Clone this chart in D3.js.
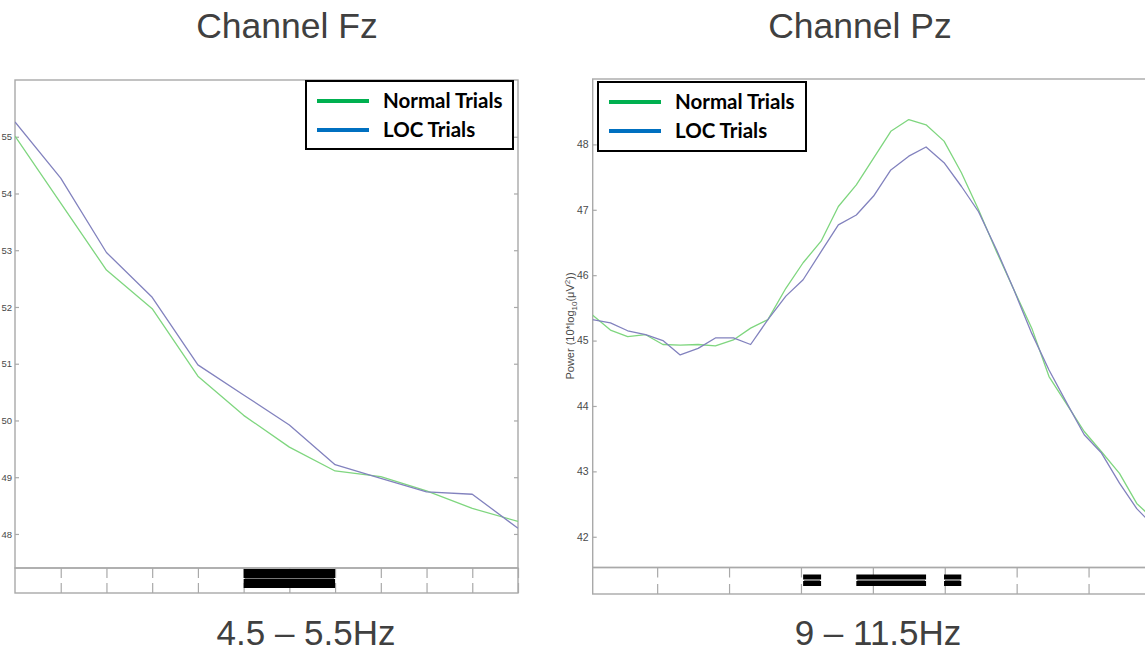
<!DOCTYPE html>
<html>
<head>
<meta charset="utf-8">
<script src="https://cdn.jsdelivr.net/npm/d3@7"></script>
<style>
  html, body { margin: 0; padding: 0; background: #fff; }
  svg { display: block; }
</style>
</head>
<body>
<svg id="chart" width="1145" height="653"></svg>
<script>
// Frequency bins (Hz) and mean spectral power (dB) per condition
const freqFz   = [2.0, 2.5, 3.0, 3.5, 4.0, 4.5, 5.0, 5.5, 6.0, 6.5, 7.0, 7.5];
const normalFz = [55.01, 53.83, 52.65, 51.97, 50.78, 50.09, 49.53, 49.11, 49.01, 48.76, 48.45, 48.22];
const locFz    = [55.26, 54.27, 52.96, 52.17, 50.98, 50.45, 49.92, 49.22, 48.98, 48.74, 48.70, 48.10];

const freqPz   = [6.10, 6.35, 6.59, 6.84, 7.08, 7.32, 7.57, 7.81, 8.06, 8.30, 8.54, 8.79, 9.03, 9.28, 9.52, 9.77,
                  10.01, 10.25, 10.50, 10.74, 10.99, 11.23, 11.47, 11.72, 11.96, 12.21, 12.45, 12.70, 12.94, 13.18,
                  13.43, 13.67, 13.92];
const normalPz = [45.39, 45.16, 45.06, 45.09, 44.94, 44.93, 44.94, 44.92, 45.01, 45.19, 45.32, 45.80, 46.19, 46.52,
                  47.05, 47.38, 47.79, 48.20, 48.38, 48.30, 48.05, 47.57, 47.00, 46.36, 45.78, 45.19, 44.45, 44.02,
                  43.61, 43.30, 42.97, 42.51, 42.25];
const locPz    = [45.32, 45.27, 45.15, 45.09, 45.00, 44.78, 44.88, 45.04, 45.04, 44.94, 45.32, 45.68, 45.93, 46.36,
                  46.77, 46.92, 47.21, 47.61, 47.82, 47.96, 47.72, 47.36, 46.97, 46.39, 45.78, 45.11, 44.55, 44.04,
                  43.56, 43.28, 42.82, 42.43, 42.15];

// Axis ticks
const yTicksFz = [48, 49, 50, 51, 52, 53, 54, 55];
const yTicksPz = [42, 43, 44, 45, 46, 47, 48];
const xTicksFz = [2.5, 3.0, 3.5, 4.0, 4.5, 5.0, 5.5, 6.0, 6.5, 7.0, 7.5];
const xTicksPz = [7, 8, 9, 10, 11, 12, 13];

// Significant frequency ranges (start, end in Hz)
const sigFz = [[4.5, 5.5]];
const sigPz = [[9.03, 9.28], [9.77, 10.74], [10.99, 11.23]];

// Text
const titles = ["Channel Fz", "Channel Pz"];
const bandLabels = ["4.5 \u2013 5.5Hz", "9 \u2013 11.5Hz"];
const seriesNames = ["Normal Trials", "LOC Trials"];

const C = {
  frame: "#a9a9a9",
  tickText: "#4a4a4a",
  normal: "#7fd67f",
  loc: "#8282be",
  legNormal: "#00b050",
  legLoc: "#0070c0",
  text: "#404040"
};

const svg = d3.select("#chart");
svg.append("rect").attr("width", 1145).attr("height", 653).attr("fill", "#fff");

function panel(cfg) {
  const g = svg.append("g");
  const x = d3.scaleLinear().domain(cfg.xDomain).range([cfg.left, cfg.right]);
  const y = d3.scaleLinear().domain(cfg.yDomain).range([cfg.bottom, cfg.top]);

  // plot frame
  g.append("rect")
    .attr("x", cfg.left).attr("y", cfg.top)
    .attr("width", cfg.right - cfg.left).attr("height", cfg.bottom - cfg.top)
    .attr("fill", "none").attr("stroke", C.frame).attr("stroke-width", 1.4);

  // y axis on the left, ticks pointing inward
  const ya = g.append("g").attr("transform", `translate(${cfg.left},0)`)
    .call(d3.axisLeft(y).tickValues(cfg.yTicks).tickSize(-4).tickPadding(cfg.labelPad));
  ya.select(".domain").remove();
  ya.selectAll(".tick line").attr("stroke", C.frame).attr("stroke-width", 1.2);
  ya.selectAll(".tick text")
    .attr("fill", C.tickText)
    .attr("font-family", "'Liberation Sans Narrow', 'Liberation Sans', sans-serif")
    .attr("font-size", cfg.tickFont);

  // mirrored ticks on the right edge
  if (cfg.rightTicks) {
    const yr = g.append("g").attr("transform", `translate(${cfg.right},0)`)
      .call(d3.axisRight(y).tickValues(cfg.yTicks).tickSize(-4).tickFormat(""));
    yr.select(".domain").remove();
    yr.selectAll(".tick line").attr("stroke", C.frame).attr("stroke-width", 1.2);
  }

  // spectra
  const line = d3.line().x(d => x(d[0])).y(d => y(d[1]));
  const clipId = "clip" + cfg.id;
  svg.append("clipPath").attr("id", clipId).append("rect")
    .attr("x", cfg.left).attr("y", cfg.top)
    .attr("width", cfg.right - cfg.left).attr("height", cfg.bottom - cfg.top);
  const lines = g.append("g").attr("clip-path", `url(#${clipId})`);
  lines.append("path")
    .attr("d", line(cfg.freq.map((f, i) => [f, cfg.normal[i]])))
    .attr("fill", "none").attr("stroke", C.normal).attr("stroke-width", 1.3)
    .attr("stroke-linejoin", "round");
  lines.append("path")
    .attr("d", line(cfg.freq.map((f, i) => [f, cfg.loc[i]])))
    .attr("fill", "none").attr("stroke", C.loc).attr("stroke-width", 1.3)
    .attr("stroke-linejoin", "round");

  // significance strip below the plot
  g.append("rect")
    .attr("x", cfg.left).attr("y", cfg.bottom)
    .attr("width", cfg.right - cfg.left).attr("height", cfg.stripBottom - cfg.bottom)
    .attr("fill", "none").attr("stroke", C.frame).attr("stroke-width", 1.4);
  const tlen = cfg.stripTick;
  const xt = g.append("g").attr("transform", `translate(0,${cfg.bottom})`)
    .call(d3.axisBottom(x).tickValues(cfg.xTicks).tickSize(tlen).tickFormat(""));
  const xb = g.append("g").attr("transform", `translate(0,${cfg.stripBottom})`)
    .call(d3.axisTop(x).tickValues(cfg.xTicks).tickSize(tlen).tickFormat(""));
  [xt, xb].forEach(a => {
    a.select(".domain").remove();
    a.selectAll(".tick line").attr("stroke", C.frame).attr("stroke-width", 1.2);
  });

  // significance bars: two stacked rows
  const bars = g.append("g");
  cfg.sig.forEach(([a, b]) => {
    const x0 = x(a), w = x(b) - x(a);
    bars.append("rect").attr("x", x0).attr("y", cfg.barTop)
      .attr("width", w).attr("height", cfg.barH).attr("fill", "#000");
    bars.append("rect").attr("x", x0).attr("y", cfg.barTop + cfg.barH + cfg.barGap)
      .attr("width", w).attr("height", cfg.barH).attr("fill", "#000");
    bars.append("line")
      .attr("x1", x0 + 1).attr("x2", x0 + w - 1)
      .attr("y1", cfg.barTop + cfg.barH + cfg.barGap / 2)
      .attr("y2", cfg.barTop + cfg.barH + cfg.barGap / 2)
      .attr("stroke", "#777").attr("stroke-width", cfg.barGap);
  });

  // legend
  const L = cfg.legend;
  const lg = g.append("g");
  lg.append("rect").attr("x", L.x).attr("y", L.y).attr("width", L.w).attr("height", L.h)
    .attr("fill", "#fff").attr("stroke", "#000").attr("stroke-width", 2);
  [[C.legNormal, seriesNames[0], 20], [C.legLoc, seriesNames[1], 49]].forEach(([col, name, dy]) => {
    lg.append("line")
      .attr("x1", L.x + 11).attr("x2", L.x + 63)
      .attr("y1", L.y + dy).attr("y2", L.y + dy)
      .attr("stroke", col).attr("stroke-width", 4);
    lg.append("text")
      .attr("x", L.x + 77).attr("y", L.y + dy + 7)
      .attr("font-family", "Lato, 'Open Sans', sans-serif")
      .attr("font-weight", 700).attr("font-size", 20.5)
      .attr("fill", "#000").text(name);
  });

  // title and band label
  svg.append("text")
    .attr("x", cfg.titleX).attr("y", 38).attr("text-anchor", "middle")
    .attr("font-family", "'Liberation Sans', Arial, sans-serif").attr("font-size", 35.5)
    .attr("fill", C.text).text(cfg.title);
  svg.append("text")
    .attr("x", cfg.bandX).attr("y", 645).attr("text-anchor", "middle")
    .attr("font-family", "'Liberation Sans', Arial, sans-serif").attr("font-size", 35)
    .attr("fill", C.text).text(cfg.band);

  return { x, y };
}

panel({
  id: "Fz", left: 15, right: 518, top: 80, bottom: 568, stripBottom: 593,
  xDomain: [2.0, 7.5], yDomain: [47.4, 56.0],
  freq: freqFz, normal: normalFz, loc: locFz,
  yTicks: yTicksFz, xTicks: xTicksFz, sig: sigFz,
  rightTicks: true, tickFont: 9.5, labelPad: 3, stripTick: 10,
  barTop: 569, barH: 9, barGap: 1,
  legend: { x: 306, y: 81, w: 207, h: 68 },
  title: titles[0], titleX: 287, band: bandLabels[0], bandX: 306
});

panel({
  id: "Pz", left: 592.7, right: 1160, top: 79, bottom: 567.5, stripBottom: 594,
  xDomain: [6.1035, 6.1035 + (1160 - 592.7) / 71.9], yDomain: [41.53, 49.0],
  freq: freqPz, normal: normalPz, loc: locPz,
  yTicks: yTicksPz, xTicks: xTicksPz, sig: sigPz,
  rightTicks: false, tickFont: 10.5, labelPad: 4, stripTick: 10,
  barTop: 574.5, barH: 5, barGap: 1.5,
  legend: { x: 598, y: 82, w: 208, h: 69 },
  title: titles[1], titleX: 860, band: bandLabels[1], bandX: 878
});

// y-axis title of the Pz panel
const yl = svg.append("text")
  .attr("transform", "translate(574,326) rotate(-90)")
  .attr("text-anchor", "middle")
  .attr("font-family", "'Liberation Sans', Arial, sans-serif")
  .attr("font-size", 11).attr("fill", C.tickText);
yl.append("tspan").text("Power (10*log");
yl.append("tspan").attr("font-size", 8).attr("dy", 3).text("10");
yl.append("tspan").attr("dy", -3).text("(\u03bcV");
yl.append("tspan").attr("font-size", 8).attr("dy", -4).text("2");
yl.append("tspan").attr("dy", 4).text("))");
</script>
</body>
</html>
